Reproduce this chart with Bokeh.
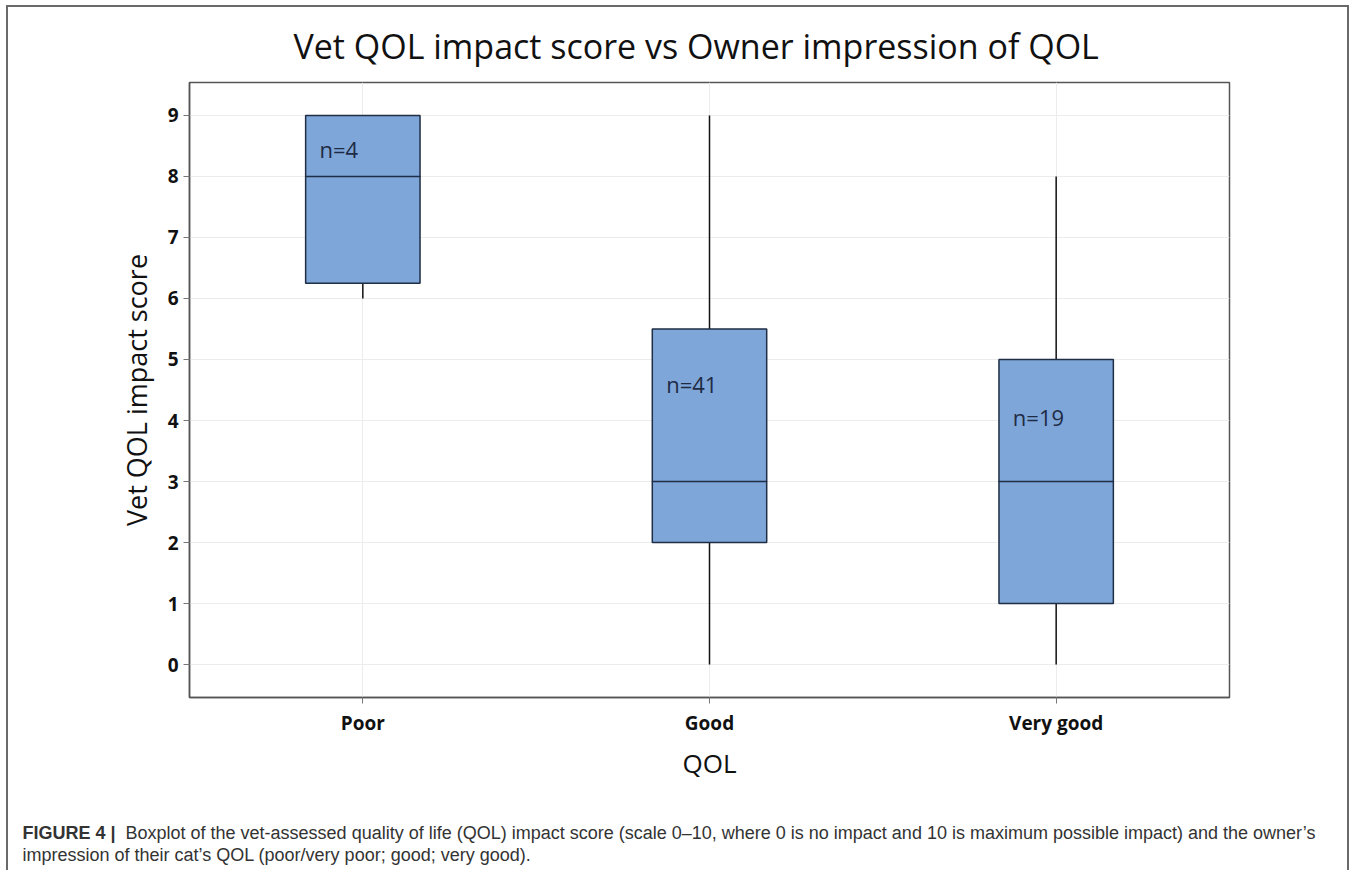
from bokeh.plotting import figure
from bokeh.models import ColumnDataSource, Label, FactorRange
from bokeh.transform import dodge
from bokeh.core.properties import value
from bokeh.embed import file_html
from bokeh.resources import INLINE

# ---- data ----
categories = ["Poor", "Good", "Very good"]
q1 = [6.25, 2.0, 1.0]
median = [8.0, 3.0, 3.0]
q3 = [9.0, 5.5, 5.0]
lower = [6.0, 0.0, 0.0]
upper = [9.0, 9.0, 8.0]
n_text = ["n=4", "n=41", "n=19"]
n_y = [8.45, 4.6, 4.05]
y_ticks = list(range(0, 10))

title_text = "Vet QOL impact score vs Owner impression of QOL"
caption_bold = "FIGURE 4 |"
caption_line1 = ("Boxplot of the vet-assessed quality of life (QOL) impact score (scale 0\u201310, "
                 "where 0 is no impact and 10 is maximum possible impact) and the owner\u2019s")
caption_line2 = "impression of their cat\u2019s QOL (poor/very poor; good; very good)."

src = ColumnDataSource(dict(cat=categories, q1=q1, median=median, q3=q3,
                            lower=lower, upper=upper, n_text=n_text, n_y=n_y))

W, H1, H2 = 1343, 783, 82
BORDER = "2px solid #6a6a6a"
p = figure(width=W, height=H1, x_range=FactorRange(*categories, range_padding=0),
           y_range=(-0.54, 9.54), output_backend="svg", toolbar_location=None,
           min_border_left=181, min_border_right=122, min_border_top=75, min_border_bottom=93)
p.styles = {"margin-left": "6px", "margin-top": "5px",
            "border-left": BORDER, "border-top": BORDER, "border-right": BORDER}

FONT = "Open Sans"
edge = "#555555"
p.outline_line_color = edge
p.outline_line_width = 1.5
p.border_fill_color = "white"

p.title.text = title_text
p.title.text_font = FONT
p.title.text_font_size = "34px"
p.title.text_font_style = "normal"
p.title.text_color = "#111111"
p.title.align = "left"
p.title.offset = 104
p.title.standoff = 27

p.xgrid.grid_line_color = "#ececec"
p.ygrid.grid_line_color = "#ececec"
p.ygrid.ticker = y_ticks

for ax in (p.xaxis[0], p.yaxis[0]):
    ax.axis_line_color = edge
    ax.axis_line_width = 1.5
    ax.major_tick_line_color = "#777777"
    ax.major_tick_out = 6
    ax.major_tick_in = 0
    ax.minor_tick_line_color = None
    ax.major_label_text_font = FONT
    ax.major_label_text_font_style = "bold"
    ax.major_label_text_font_size = "19px"
    ax.major_label_text_color = "#111111"
    ax.axis_label_text_font = FONT
    ax.axis_label_text_font_style = "normal"
    ax.axis_label_text_color = "#111111"

p.yaxis.ticker = y_ticks
p.yaxis.axis_label = "Vet QOL impact score"
p.yaxis.axis_label_text_font_size = "27px"
p.yaxis.major_label_standoff = 5
p.yaxis.axis_label_standoff = 10
p.xaxis.axis_label = "QOL"
p.xaxis.axis_label_text_font_size = "26px"
p.xaxis.major_label_standoff = 6
p.xaxis.axis_label_standoff = 6

# whiskers
p.segment(x0="cat", y0="q3", x1="cat", y1="upper", source=src, line_color="#111111", line_width=1.5)
p.segment(x0="cat", y0="lower", x1="cat", y1="q1", source=src, line_color="#111111", line_width=1.5)
# boxes
p.vbar(x="cat", width=0.33, bottom="q1", top="q3", source=src,
       fill_color="#7ea6d8", line_color="#1f2d45", line_width=1.5)
# medians
p.rect(x="cat", y="median", width=0.33, height=0.001, source=src,
       line_color="#1f2d45", line_width=1.5, fill_color=None)
# n labels
p.text(x=dodge("cat", -0.125, range=p.x_range), y="n_y", text="n_text", source=src,
       text_font=value(FONT), text_font_size="22px", text_color="#1e2b45",
       text_baseline="middle", text_align="left")

# caption panel (pixel-like coordinates, y downward), separate root so frames are not aligned
cap = figure(width=W, height=H2, x_range=(0, W), y_range=(H2, 0), output_backend="svg",
             toolbar_location=None, min_border=0, x_axis_type=None, y_axis_type=None)
cap.grid.visible = False
cap.outline_line_color = None
cap.styles = {"margin-left": "6px", "border-left": BORDER, "border-right": BORDER}
cap_kw = dict(text_font="Liberation Sans", text_font_size="18px", text_color="#333333",
              text_baseline="middle", text_align="left")
cap.add_layout(Label(x=14, y=44, text=caption_bold, text_font_style="bold", **cap_kw))
cap.add_layout(Label(x=117, y=44, text=caption_line1, **cap_kw))
cap.add_layout(Label(x=14, y=66, text=caption_line2, **cap_kw))

open("out.html", "w").write(file_html([p, cap], INLINE))
